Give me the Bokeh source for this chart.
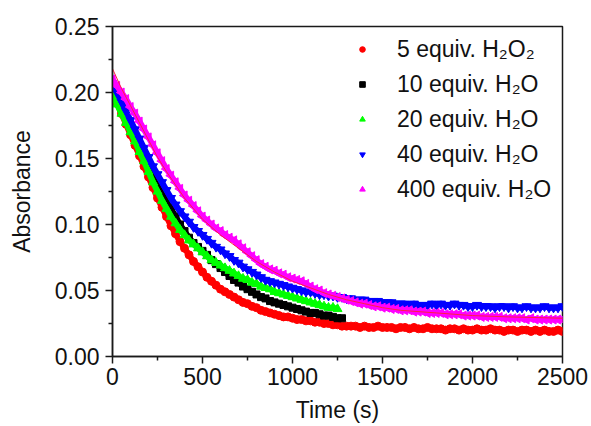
import math
from bokeh.plotting import figure
from bokeh.models import (ColumnDataSource, Legend, LegendItem, FixedTicker,
                          PrintfTickFormatter)
from bokeh.embed import file_html
from bokeh.resources import INLINE

# ---------------- data ----------------
t_long = list(range(0, 2501, 25))     # 0 .. 2500 s
t_black = list(range(0, 1276, 25))    # 0 .. 1275 s
t_green = list(range(0, 1251, 25))    # 0 .. 1250 s

red_5 = [
    .200, .192, .184, .176, .168, .160, .152, .144, .136, .128,
    .120, .113, .106, .099, .093, .087, .082, .077, .072, .068,
    .064, .060, .057, .054, .051, .049, .047, .045, .043, .041,
    .040, .038, .037, .035, .034, .033, .032, .031, .030, .030,
    .029, .028, .028, .027, .027, .026, .026, .025, .025, .024,
    .024, .023, .023, .023, .023, .022, .023, .022, .022, .023,
    .022, .022, .022, .021, .022, .022, .021, .022, .021, .021,
    .022, .021, .021, .021, .020, .021, .021, .020, .021, .020,
    .020, .021, .020, .020, .021, .020, .020, .019, .020, .020,
    .019, .020, .020, .019, .020, .019, .020, .019, .019, .020,
    .019]

black_10 = [
    .205, .197, .190, .182, .175, .167, .160, .152, .145, .138,
    .131, .124, .118, .112, .106, .100, .095, .090, .086, .083,
    .080, .077, .073, .070, .067, .064, .061, .058, .056, .053,
    .051, .049, .047, .045, .044, .042, .041, .040, .039, .038,
    .037, .036, .035, .034, .033, .033, .032, .031, .031, .030,
    .029, .029]

green_20 = [
    .198, .191, .184, .177, .170, .163, .155, .148, .140, .132,
    .125, .118, .112, .106, .101, .096, .092, .088, .085, .082,
    .079, .076, .073, .071, .069, .067, .065, .063, .061, .059,
    .058, .056, .055, .053, .052, .051, .049, .048, .047, .046,
    .045, .044, .043, .042, .041, .040, .039, .038, .037, .037,
    .036]

blue_40 = [
    .207, .200, .193, .186, .179, .172, .165, .158, .151, .144,
    .138, .132, .126, .120, .115, .110, .106, .102, .098, .095,
    .092, .089, .086, .083, .081, .078, .076, .073, .071, .068,
    .066, .064, .062, .060, .058, .057, .056, .055, .054, .053,
    .052, .051, .050, .049, .049, .048, .047, .047, .046, .046,
    .045, .045, .044, .044, .043, .043, .043, .042, .042, .042,
    .041, .041, .041, .040, .040, .040, .039, .040, .039, .039,
    .039, .040, .039, .040, .039, .039, .040, .039, .039, .038,
    .038, .039, .038, .038, .038, .037, .038, .038, .037, .038,
    .037, .037, .038, .037, .037, .037, .038, .037, .037, .037,
    .038]

magenta_400 = [
    .210, .205, .200, .195, .189, .184, .178, .172, .166, .160,
    .154, .148, .142, .137, .132, .127, .122, .118, .114, .110,
    .106, .103, .100, .097, .095, .092, .090, .088, .085, .082,
    .079, .076, .073, .070, .068, .066, .065, .063, .062, .060,
    .059, .058, .057, .055, .053, .051, .050, .048, .047, .046,
    .045, .044, .043, .042, .041, .040, .040, .039, .038, .038,
    .037, .037, .036, .036, .035, .035, .035, .034, .034, .034,
    .033, .033, .033, .033, .032, .032, .032, .032, .031, .031,
    .031, .031, .030, .030, .030, .030, .030, .029, .029, .029,
    .029, .029, .028, .029, .028, .028, .028, .028, .028, .028,
    .028]

fit_t = [0, 50, 100, 150, 200, 250, 300, 350, 400, 450, 500, 600, 700,
         800, 900, 1000, 1100, 1200, 1300, 1400, 1500, 1600, 1800, 2000,
         2200, 2500]
fit_400 = [.218, .203, .190, .177, .164, .151, .140, .130, .120, .112,
           .104, .092, .082, .072, .064, .057, .052, .047, .043, .040,
           .037, .035, .033, .031, .030, .029]

labels = ["5 equiv. H\u2082O\u2082", "10 equiv. H\u2082O", "20 equiv. H\u2082O",
          "40 equiv. H\u2082O", "400 equiv. H\u2082O"]

y_ticks = [0.0, 0.05, 0.10, 0.15, 0.20, 0.25]
y_minor = [0.025, 0.075, 0.125, 0.175, 0.225]
x_ticks = [0, 500, 1000, 1500, 2000, 2500]
x_minor = [250, 750, 1250, 1750, 2250]

# ---------------- figure ----------------
FONT = "Liberation Sans"
FS = "23px"
p = figure(width=591, height=426, x_range=(0, 2500), y_range=(0, 0.25),
           output_backend="svg", toolbar_location=None,
           min_border_left=112, min_border_right=29,
           min_border_top=26, min_border_bottom=70)
p.background_fill_color = "white"
p.border_fill_color = "white"
p.outline_line_color = "#1a1a1a"
p.outline_line_width = 1.5
p.xgrid.visible = False
p.ygrid.visible = False

for ax in (p.xaxis[0], p.yaxis[0]):
    ax.axis_line_color = "#1a1a1a"
    ax.axis_line_width = 1.5
    ax.major_tick_line_color = "#1a1a1a"
    ax.minor_tick_line_color = "#1a1a1a"
    ax.major_tick_line_width = 1.5
    ax.minor_tick_line_width = 1.5
    ax.major_tick_in = 0
    ax.major_tick_out = 7
    ax.minor_tick_in = 0
    ax.minor_tick_out = 4
    ax.major_label_text_font = FONT
    ax.major_label_text_font_size = FS
    ax.major_label_text_color = "#111111"
    ax.axis_label_text_font = FONT
    ax.axis_label_text_font_size = FS
    ax.axis_label_text_font_style = "normal"
    ax.axis_label_text_color = "#111111"

p.xaxis[0].ticker = FixedTicker(ticks=x_ticks, minor_ticks=x_minor)
p.yaxis[0].ticker = FixedTicker(ticks=y_ticks, minor_ticks=y_minor)
p.yaxis[0].formatter = PrintfTickFormatter(format="%.2f")
p.xaxis[0].axis_label = "Time (s)"
p.yaxis[0].axis_label = "Absorbance"
p.xaxis[0].major_label_standoff = 4
p.yaxis[0].major_label_standoff = 6
p.xaxis[0].axis_label_standoff = 9
p.yaxis[0].axis_label_standoff = 17

src_red = ColumnDataSource(dict(t=t_long, a=red_5))
src_black = ColumnDataSource(dict(t=t_black, a=black_10))
src_green = ColumnDataSource(dict(t=t_green, a=green_20))
src_blue = ColumnDataSource(dict(t=t_long, a=blue_40))
src_mag = ColumnDataSource(dict(t=t_long, a=magenta_400))
src_fit = ColumnDataSource(dict(t=fit_t, a=fit_400))

series = [
    (src_red, "#ff0000", "circle", 8, 0.0),
    (src_black, "#000000", "square", 7, 0.0),
    (src_green, "#00ff00", "triangle", 9, 0.0),
    (src_blue, "#0000ff", "inverted_triangle", 9, 0.0),
    (src_mag, "#ff00ff", "triangle", 9, math.pi / 2),
]
renderers = []
for src, col, mk, sz, ang in series:
    # dense band of data points: thick trace under the markers
    p.line("t", "a", source=src, line_color=col, line_width=6)
    r = p.scatter("t", "a", source=src, marker=mk, size=sz, angle=ang,
                  fill_color=col, line_color=col)
    renderers.append(r)

p.line("t", "a", source=src_fit, line_color="#ff2040", line_width=1)

legend = Legend(items=[LegendItem(label=lab, renderers=[r]) for lab, r in
                       zip(labels, renderers)],
                location=(243, 151), label_text_font=FONT,
                label_text_font_size=FS, label_text_color="#111111",
                glyph_width=14, glyph_height=32, label_height=32,
                spacing=3, padding=5, margin=0, label_standoff=28,
                border_line_color=None, background_fill_alpha=0)
p.add_layout(legend)

open("out.html", "w").write(file_html(p, INLINE))
